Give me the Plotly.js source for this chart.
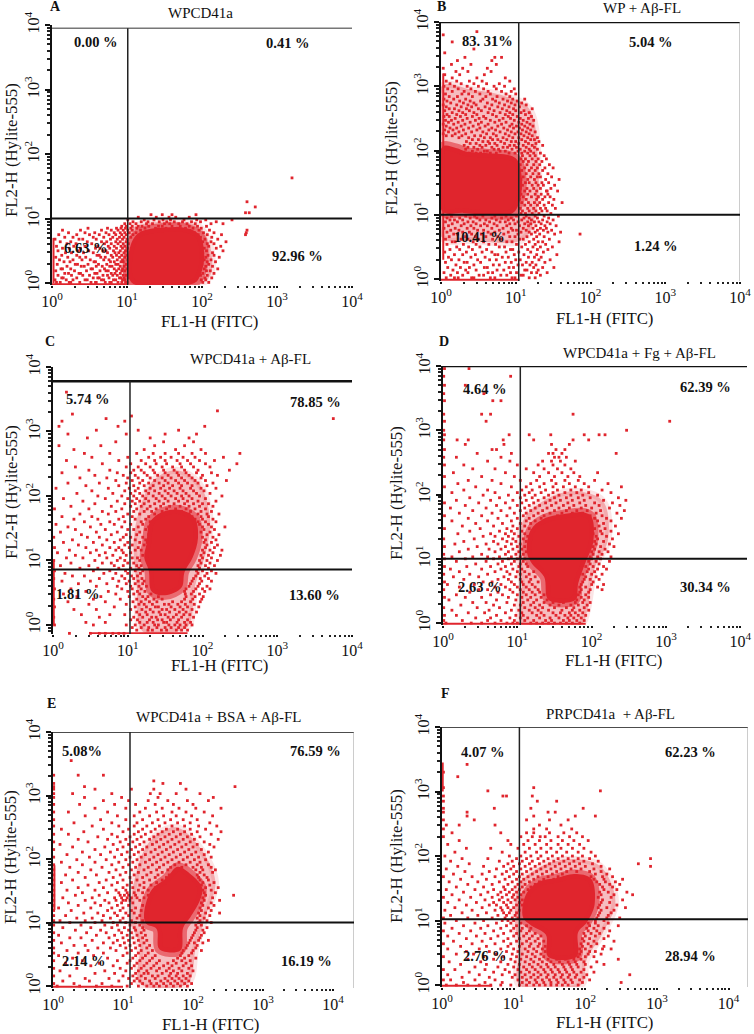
<!DOCTYPE html>
<html><head><meta charset="utf-8">
<script src="https://cdn.plot.ly/plotly-3.0.1.min.js"></script>
<style>html,body{margin:0;padding:0;background:#fff}</style></head>
<body><div id="chart" style="width:754px;height:1034px"></div>
<script>
// All event values are in hundredths of a decade (value 125 = 10^1.25).
// rows: [FL2 value, FL1 value, FL1 value, ...]
const rowsA=[[1,6,11,23,25,37,52,58,59,71,77,79,88,93,98,100,201,209],[5,4,19,28,44,47,66,69,82,85,94,97,199,205],[8,13,15,33,55,61,63,76,90,92,96,103,204,213],[12,8,26,41,50,68,74,81,87,95,99,198,207],[15,17,22,36,38,57,60,79,84,91,102,201,216],[19,5,30,46,64,72,75,86,93,97,106,206,211],[22,12,14,25,52,54,70,83,89,94,100,198,203,221],[26,20,39,43,59,67,77,80,91,96,205,214],[29,7,31,34,48,62,73,85,88,99,103,200,209],[33,16,24,56,58,78,83,92,95,198,207,218],[36,10,28,40,51,69,76,87,94,101,203,212],[40,5,21,37,45,65,71,81,90,97,199,205,223],[43,13,33,60,63,79,86,93,100,208,216],[47,18,26,42,55,74,84,89,96,104,201,214],[50,8,35,49,68,72,82,91,98,197,206,228],[54,14,23,38,58,64,77,86,94,101,203,219],[57,6,29,44,61,75,83,92,97,199,209,225],[61,20,32,53,70,79,88,95,102,195,207,216],[64,11,25,47,66,73,85,91,99,201,212,232],[68,4,36,41,59,78,87,94,100,192,204,221],[71,17,28,55,69,81,90,96,105,189,198,213],[75,9,33,50,63,76,85,93,99,108,185,195,207,226,258],[78,22,44,57,72,83,91,97,103,112,180,190,202,216,259],[82,14,38,66,79,88,95,101,107,118,175,184,196,210,260],[85,48,74,86,92,98,105,113,124,138,152,167,178,188,199],[88,93,99,107,115,120,129,142,147,160,171,183,194,206],[92,97,104,112,126,134,150,157,169,180,191,212,228],[95,108,119,128,143,153,163,174,186,198,219],[98,101,123,136,148,158,176,193,205,240],[102,115,139,156,165,183],[106,132,147,160,192],[109,258,263],[118,271],[126,260],[163,320]];
const rowsB=[[2,7,18,23,41,44,66,72,95,99,118,126],[6,13,29,51,57,80,88,107,110,133],[10,4,22,36,63,69,93,101,121,128,142],[14,16,33,47,75,84,112,115,130],[18,9,26,38,58,62,91,97,124,136,151],[22,20,44,70,78,103,109,119,127],[26,6,31,35,53,86,94,114,122,139],[30,14,24,49,65,74,100,106,131,146],[34,10,40,59,82,90,117,125,134],[38,18,29,46,72,76,98,111,128,155],[42,5,34,55,68,87,104,120,137],[46,12,25,42,61,93,96,116,129,143],[50,21,37,52,78,85,108,123,133,149],[54,8,30,47,64,73,101,113,126,140],[58,15,19,43,57,88,95,118,130,136,158],[62,6,27,36,50,69,81,105,110,124,145],[66,11,33,46,60,76,92,99,115,128,138],[70,17,22,41,54,67,84,103,121,132,186,152],[73,8,29,38,63,72,90,107,118,126,143,160],[76,13,24,49,57,78,96,101,114,129,137,148],[79,4,19,35,44,68,83,94,110,123,133,141],[83,10,27,40,53,62,75,88,105,117,127,139,154],[86,15,31,47,58,71,92,99,112,120,134,146],[89,6,22,36,43,65,79,86,103,116,125,131,142],[92,12,18,29,52,60,74,90,97,108,121,136,150],[95,8,25,39,48,68,81,94,111,118,129,144],[98,14,33,45,56,72,87,101,114,126,138,157],[102,107,113,122,131,147],[106,109,118,127,135,142],[110,106,116,124,133,140,153],[115,112,120,129,138,149],[119,108,117,125,132,144,162],[124,105,114,128,136,151],[128,110,121,130,139,146,130],[132,107,116,126,134,143],[137,112,119,128,141,156,142],[141,106,115,124,133,147],[146,109,122,130,137,152],[150,113,118,127,135,144],[155,107,116,125,140,158],[159,110,120,129,133,148],[164,105,114,123,131,143],[169,108,118,126,136],[173,112,121,129,139,150],[178,106,115,124,132,145],[183,110,117,127,135],[187,107,113,122,130,141],[192,109,119,126,138],[196,38,47,53,66,74,91,99,108,116,124,133],[199,42,58,62,79,86,103,112,120],[202,33,49,71,77,95,106,118,129],[205,36,44,55,68,83,89,101,114,125],[208,31,52,60,75,92,98,110,122,136],[211,39,47,65,72,85,104,117,127],[214,34,56,63,80,94,100,113,131],[217,42,50,69,76,88,108,120,125],[220,24,37,58,66,83,96,104,116,129],[223,7,15,28,45,53,74,91,111,122],[226,3,19,33,61,70,86,99,107,118],[229,10,24,41,56,79,94,103,114,126],[232,5,16,30,48,64,73,89,109,120],[235,12,21,37,52,68,84,97,105,116],[238,7,27,43,59,76,92,101,112,123],[241,3,17,32,50,63,81,95,108,119],[244,10,23,39,54,72,87,104,115],[247,6,14,29,46,66,78,98,110,124],[250,19,35,51,60,83,93,106,117],[253,4,11,26,42,57,74,90,102,121],[256,8,21,33,48,69,86,96,113],[259,15,29,44,63,79,92,107,118],[262,5,24,38,54,71,88,100,111],[265,11,18,34,50,65,82,97,122],[268,7,27,41,59,76,91,105],[271,3,21,36,47,68,85,99,114],[274,13,30,44,62,78,94,108],[277,8,25,39,53,73,89,102],[280,4,17,33,56,69,83,96,112],[284,11,22,42,60,75,92],[288,6,28,37,52,66,87,100],[292,15,31,46,63,81,94],[296,9,23,40,57,74,98],[300,4,18,35,50,71,85],[304,12,27,44,61,78],[308,7,21,38,55,92],[313,15,48,86],[318,5,25,58],[323,20,36,67],[328,3,29,62],[334,14,40,74],[340,22,68],[345,32,72,81],[352,5],[358,44],[369,15],[380,3],[385,48]];
const rowsC=[[-13,22,50,62,70,80,88,95],[-8,112,127,133,145,152,165,172,180],[-4,106,118,128,139,150,158,168,176],[0,2,54,98,110,122,136,141,155,163,170,178,186],[4,44,70,116,126,134,148,152,166,176,184],[8,104,113,129,140,146,157,168,180],[12,1,62,108,120,132,138,154,161,172,188],[16,38,76,96,116,126,144,150,165,175,183],[20,112,124,134,142,156,169,178,192],[24,28,58,104,119,130,146,152,163,174,186],[28,2,82,110,125,137,141,158,170,180,195],[32,48,98,115,122,133,149,155,167,177,189],[36,20,70,107,118,129,139,160,172,184,197],[40,1,54,90,112,124,135,146,176,187,199],[44,32,64,102,120,127,141,178,190,201],[48,14,84,108,116,131,177,185,196],[52,44,74,100,113,123,176,188,203],[56,2,24,92,106,118,178,191,200,210],[60,58,86,104,115,125,182,194,206],[64,34,72,98,110,120,184,196],[68,12,50,88,102,114,122,186,199,212],[72,1,62,80,96,108,119,188,197,208],[76,26,42,92,105,113,191,203],[80,16,68,84,100,117,194,206,218],[84,2,54,76,97,110,120,192,200,212],[88,36,60,88,104,115,196,208],[92,10,48,82,94,112,118,194,204,216],[96,24,66,78,100,108,198,210],[100,1,56,86,96,116,196,206,220],[104,18,40,72,90,106,113,200,212],[108,30,62,80,98,120,198,208,224],[112,6,50,70,94,104,202,214],[116,22,58,84,92,110,118,200,210,226],[120,2,44,76,88,102,114,204,216],[124,34,66,96,106,122,206,220],[128,14,54,82,100,116,126,202,212],[132,26,72,90,110,124,204,218],[136,1,46,62,94,104,120,130,200,214],[140,38,78,98,112,128,206,222],[144,10,58,86,116,132,198,210],[148,30,70,100,108,124,136,202,216],[152,20,50,92,114,128,140,200,212,230],[156,4,64,82,104,120,134,146,196,208],[160,42,76,96,118,130,150,194,204,218],[164,28,60,88,110,124,140,156,190,200,214],[168,12,52,94,106,128,144,160,186,198,208],[172,36,74,100,116,136,150,166,182,194,206,222],[176,66,84,108,122,132,146,158,172,184,198,212],[180,2,48,92,112,126,138,152,164,178,190,204],[184,24,78,104,118,130,144,156,170,182,196,214],[188,56,96,110,122,136,148,162,176,188,200,208],[192,40,86,106,116,128,142,154,168,180,194,218],[196,14,70,100,112,124,138,150,164,174,186,204],[200,60,92,108,120,134,146,158,172,182,196,226],[204,32,80,104,116,128,142,154,166,178,192,210],[208,52,96,110,124,136,150,162,174,188,202],[212,4,74,102,114,130,144,156,170,184,198,218],[216,44,88,108,122,134,148,160,172,186,206],[220,20,62,98,116,128,142,154,168,180,194,214],[224,84,106,120,136,150,164,176,190,204,232],[228,36,72,100,114,130,146,158,172,186,198],[232,56,94,110,126,140,154,168,182,200,220],[236,12,86,104,122,136,150,166,178,192,212],[240,48,76,108,118,134,148,162,176,194,236],[245,30,98,114,130,146,160,172,188,210],[250,66,104,124,138,152,170,184,204,246],[255,18,88,118,136,150,166,180,196,216],[260,52,100,128,144,158,174,190,228],[266,42,76,112,134,150,168,186,204,250],[272,28,122,164,198],[278,8,64,136,176],[284,84,148,188],[290,46,130,182],[296,20,98,150,192],[302,58,114,168],[308,8,87,203],[316,96,12],[320,71,375],[324,105],[327,26],[332,220],[361,18]];
const rowsD=[[0,4,38,52,70,86,94,100,118,126,134,142,150,158,166,174,184],[4,1,26,60,78,96,110,122,138,146,162,170,180,190],[8,44,64,90,104,114,130,144,156,168,176,186],[12,2,18,72,98,108,126,136,152,164,172,182,192],[16,34,56,84,106,120,132,148,158,170,178,188],[20,12,62,92,102,116,128,142,160,174,184,196],[24,1,46,76,110,124,134,150,166,176,190],[28,24,68,96,104,118,130,144,156,172,182,194],[32,40,58,86,108,122,136,148,162,178,188,198],[36,8,72,98,114,126,140,180,190],[40,2,30,52,88,106,118,132,144,178,186,196],[44,18,64,80,100,112,124,136,182,192],[48,36,74,94,108,120,130,184,196],[52,1,48,60,90,104,116,128,186,198,214],[56,22,70,84,100,112,124,184,192,208],[60,6,42,78,96,108,120,186,200,216],[64,2,54,66,92,106,116,128,188,202],[68,28,74,88,104,118,190,198,210],[72,14,48,82,98,112,124,192,206],[76,1,36,60,90,104,116,188,200,214],[80,22,70,86,100,110,122,194,204],[84,10,52,78,94,106,196,208,220],[88,2,32,64,84,102,114,192,202,216],[92,44,74,92,104,112,198,210],[96,18,58,80,96,108,196,206,224],[100,2,30,68,88,100,110,200,212],[103,12,40,60,76,92,104,198,208,226],[107,1,52,84,98,108,202,214],[111,22,70,88,102,112,200,210,222],[115,34,62,78,94,106,204,218],[119,2,46,84,100,110,202,212,230],[123,16,58,74,92,104,206,224],[127,28,68,86,98,112,204,216],[131,1,42,80,94,108,208,228],[135,54,70,88,102,114,206,220],[139,20,64,84,96,110,202,214,236],[143,36,76,92,106,120,200,212,226],[147,2,50,86,100,116,204,218],[151,26,68,94,110,126,198,210,232],[155,44,80,104,118,130,200,216],[159,12,60,92,112,124,138,196,208,226],[163,34,74,100,116,132,148,192,204,220,240],[167,2,52,86,108,122,136,154,168,182,198,214],[171,22,66,96,112,128,144,160,174,188,206,234],[175,40,78,104,118,134,150,166,180,194,212,244],[179,10,58,90,110,124,140,156,170,186,200,224],[183,30,72,100,116,130,146,162,176,192,210,238],[187,2,48,84,106,122,138,152,168,184,204,228],[191,18,64,94,112,128,144,158,174,190,216,246],[195,36,76,104,120,136,150,166,182,198,236],[199,54,88,110,124,142,156,172,188,208],[203,12,70,100,116,132,148,164,180,196,226],[207,28,60,106,120,138,154,172,186,214],[212,2,44,92,112,130,148,162,178,196,240],[217,20,78,118,136,152,170,190,222],[222,34,66,104,126,146,164,182,204],[228,2,52,96,130,150,168,184],[234,14,84,122,142,160,176,208],[240,40,70,112,136,154,172],[246,2,28,100,128,148,164],[252,60,90,134,146,158,178],[258,1,18,78,150,156,166],[264,46,92,142,148,160,233],[270,2,66,72,152,164],[278,30,82,146,170],[285,1,19,34,122,81,175,196],[293,2,89,116,145,218,190,210],[300,1,247],[314,2,305,58],[325,1,175,52,64],[346,2,67,78],[357,1,55],[370,2,30],[384,1,91],[396,2,35]];
const rowsE=[[0,6,38,62,84,106,122,134,144,152,162,172,182,192],[4,1,30,70,112,128,140,148,158,168,178,188,198],[8,14,52,94,116,124,138,154,164,174,184,194],[12,46,80,108,120,132,146,160,170,180,190],[16,1,24,100,114,126,142,150,166,176,186,196],[20,60,88,118,130,136,156,168,178,192],[24,10,74,104,122,134,148,162,172,184,200],[28,1,34,96,112,126,140,152,166,180,194],[32,54,86,116,130,144,158,170,186,198],[36,18,66,106,120,134,148,164,176,190],[40,1,42,92,110,124,138,152,172,184,196],[44,28,78,114,128,142,178,188,204],[48,8,58,100,118,132,146,182,194],[52,1,36,72,106,122,136,184,198],[56,20,50,90,112,126,142,186,200,212],[60,1,64,82,104,118,134,190,204],[64,30,46,96,110,124,138,192,206],[68,12,72,86,102,116,130,194,202,214],[72,1,56,92,108,122,134,196,208,222],[76,24,40,80,100,114,128,198,210],[80,8,62,88,106,120,132,200,212],[84,1,48,76,98,112,126,202,216],[88,32,68,94,108,118,130,204,214],[92,14,54,84,102,116,128,206,220],[96,1,40,74,92,110,124,204,212],[100,24,60,86,104,118,208,226],[103,1,10,46,70,96,112,128,210,220],[107,34,56,82,100,120,206,216],[111,1,18,72,92,108,124,210,224],[115,44,64,88,104,116,208,218,238],[119,1,26,78,96,112,126,212,226],[123,8,54,84,100,118,210,222],[127,1,36,68,92,108,128,214,230],[131,22,60,80,98,114,212,226],[135,1,46,74,90,100,104,110,124,216,238],[139,14,56,88,98,106,112,120,130,214,228],[143,1,32,66,96,102,108,118,136,218,258],[147,42,78,94,106,116,128,142,216,232],[151,1,20,60,90,104,122,136,150,214,226],[155,36,72,100,114,130,146,158,218,236],[159,1,50,84,106,124,140,154,212,224],[163,12,66,92,112,130,148,164,214,230],[167,1,28,76,100,120,138,156,170,210,222],[171,46,86,110,128,146,162,208,220],[175,1,18,62,96,116,134,150,166,206,216],[179,36,80,104,122,140,156,172,210,228],[183,1,54,90,112,130,148,164,204,214,232],[187,24,70,100,118,136,152,168,184,200,212,226],[191,1,42,84,108,124,142,158,174,190,206,222],[195,12,60,94,114,132,148,164,180,196,210],[199,34,76,104,120,138,154,170,186,202,218],[203,1,52,88,110,126,144,160,176,192,208,226],[207,20,68,98,116,132,150,166,182,198,216],[211,42,82,106,122,140,156,172,188,204,222],[215,1,60,92,112,128,146,162,178,194,212],[219,28,74,100,118,134,152,168,184,200,230],[223,10,86,108,124,142,158,174,190,206,224],[227,1,50,96,114,130,148,164,180,196,216],[231,36,78,104,120,138,154,170,186,202,236],[235,64,92,110,126,144,160,176,192,210],[239,1,22,84,116,132,150,166,182,198,226],[243,44,100,122,140,156,172,188,206,240],[247,12,72,108,128,146,162,178,196,218],[252,1,56,94,116,134,152,170,188,208,234],[257,30,84,120,142,160,178,196,224],[262,1,68,104,128,150,168,186,206],[268,46,92,116,138,158,176,198,228],[274,1,22,78,124,148,170,190,216],[280,60,104,132,156,180,204,240],[286,1,38,88,118,146,172,200],[292,72,108,136,164,192,222],[297,1,45,229,98,150],[303,1,28,84,139,153,176,210],[310,1,60,112,144,190],[314,1,45,260],[319,1,157,182],[323,144],[332,1,36,72],[355,26]];
const rowsF=[[0,6,20,36,52,68,82,96,108,118,128,136,144,152,160,168,176,190],[4,30,60,84,112,122,132,142,152,162,172,182,196,250],[8,2,12,46,74,106,118,130,140,150,160,170,180,192,206],[12,28,66,98,112,124,134,146,156,166,176,186,198],[16,8,52,84,102,116,128,138,148,158,168,178,188,202,262],[20,38,72,94,110,122,134,144,154,164,174,184,194,212],[24,2,18,60,88,106,118,130,142,152,162,172,182,198],[28,46,78,100,114,126,138,148,158,170,180,190,208],[32,26,62,92,108,122,134,146,156,168,178,188,200,226],[36,10,54,82,102,116,128,140,152,164,176,186,198,216],[40,36,72,96,110,124,136,148,160,172,184,194,246],[44,2,58,86,104,118,130,142,190,200,212],[48,20,44,76,98,112,126,138,192,204,222],[52,34,66,90,106,120,132,144,194,206,214],[56,8,52,82,100,116,128,140,192,200,224,236],[60,26,62,92,108,122,134,144,196,208,226],[64,2,42,74,96,112,124,136,194,204,216],[68,16,56,86,104,118,130,142,198,212,240],[72,34,68,92,108,122,134,196,206,226],[76,8,48,78,100,114,126,138,200,214,232],[80,24,60,86,104,118,130,198,208,220],[84,2,40,72,96,110,122,204,216,234],[88,14,54,82,100,112,124,202,212,226],[92,30,64,90,104,118,206,218,246],[96,4,46,76,96,110,204,214,232],[100,20,58,84,92,100,214,226],[104,2,36,70,88,98,106,216,230,248],[108,12,50,78,90,102,218,232],[112,28,62,86,94,104,220,236],[116,4,42,74,84,96,108,222,240],[120,18,56,82,92,100,218,230,256],[124,34,66,76,90,104,112,220,244],[128,8,48,72,86,96,108,222,234],[132,24,60,80,92,102,112,224,252],[136,2,40,70,84,98,106,218,236],[140,14,54,78,90,100,110,222,240,266],[144,30,64,82,94,104,114,220,232,258],[148,6,46,72,88,98,108,120,226,244],[152,20,58,86,102,112,124,140,224,238],[156,36,70,92,106,116,130,146,158,220,234,248],[160,10,50,80,98,110,122,136,150,216,228,242],[164,26,62,88,104,114,128,142,156,172,212,226,252],[168,2,42,74,94,108,120,134,148,162,176,208,224,238],[172,16,56,84,100,112,126,140,154,168,214,230],[176,32,66,90,104,118,132,146,160,174,188,206,222],[180,6,76,96,110,124,138,152,166,180,194,212,234],[184,22,58,86,100,116,130,144,158,172,186,200,222,291],[188,38,92,108,122,136,150,164,178,192,210,274],[192,12,80,98,112,126,142,156,170,184,198,218],[196,28,64,104,118,134,148,162,176,190,206,291],[200,4,94,110,124,138,154,168,182,196,214],[206,18,84,116,132,146,160,174,190,208],[212,34,68,106,122,138,152,166,182,198],[218,8,96,114,130,146,162,176,192],[224,24,92,120,136,152,168,184,204],[230,2,110,126,137,144,162,178,196],[236,14,82,118,128,150,170,188],[242,2,128,146,181],[248,6,24,74,136,166],[256,2,45,118,176,150],[262,35,128,214,186],[268,2,35,158,148],[274,2,73,197,124],[285,2,133,160],[293,2,90,126,85],[301,64,221],[306,2,128],[323,22],[330,2],[342,35]];

// Dense central region of each cloud, and the stippled zone round it: [FL1, FL2, FL1, FL2, ...]
const coreA=[106,1,104,55,116,78,150,86,180,85,197,74,203,40,197,10,190,0];
const haloA=[100,0,100,70,108,86,150,95,195,88,210,60,212,15,200,0];
const coreB=[2,105,30,103,60,100,95,102,105,120,108,160,100,188,60,196,35,198,20,204,2,206];
const haloB=[1,65,40,60,110,62,128,110,130,180,118,265,85,285,40,295,1,300];
const coreC=[125,125,130,160,148,176,172,178,190,165,194,135,187,105,176,82,172,58,150,46,132,52,128,85,122,105];
const haloC=[108,130,116,180,135,225,165,240,195,220,210,165,205,115,190,60,182,0,165,-10,120,-10,112,60];
const coreD=[113,110,118,145,135,162,165,170,190,172,200,165,202,125,192,95,182,62,178,36,142,36,136,72,120,92];
const haloD=[102,95,108,160,135,190,175,205,215,190,222,130,204,85,194,20,186,-2,106,-2,106,60];
const coreE=[130,112,140,150,162,170,178,188,198,175,213,155,210,135,196,108,186,92,182,56,152,58,148,90,133,98];
const haloE=[112,100,118,175,140,230,175,250,205,225,232,165,218,110,204,60,192,4,124,4,124,65];
const coreF=[113,105,117,140,135,160,160,166,185,172,208,165,213,125,202,97,190,82,188,44,148,44,145,78,125,92];
const haloF=[102,95,108,155,135,182,175,195,220,185,242,130,224,80,202,40,194,0,108,0,108,60];

// Saturated events on the axes: [FL1 from, FL1 to, FL2 from, FL2 to]
const edgeA=[[2,2,0,70],[0,100,-2,-2]];
const edgeB=[[3,3,30,320],[0,105,-1,-1]];
const edgeC=[[1,1,0,100],[50,180,-13,-13]];
const edgeD=[[0,192,-1,-1]];
const edgeE=[[2,2,120,190],[0,100,-1,-1]];
const edgeF=[[1,1,300,345],[0,70,-1,-1]];

// Gates and frame lines, same units
const gateX=[101,104,103,104,110,108];
const gateY=[100,100,86,100,100,102];
const topLine=[395,400,378,400,400,400];
const frameRight=[null,400,null,null,430,427];

const panelNames=["A","B","C","D","E","F"];
const panelTitles=["WPCD41a","WP + Aβ-FL","WPCD41a + Aβ-FL","WPCD41a + Fg + Aβ-FL","WPCD41a + BSA + Aβ-FL","PRPCD41a  + Aβ-FL"];
const quadrantLabels=[["0.00 %","0.41 %","6.63 %","92.96 %"],["83. 31%","5.04 %","10.41 %","1.24 %"],["5.74 %","78.85 %","1.81 %","13.60 %"],["4.64 %","62.39 %","2.63 %","30.34 %"],["5.08%","76.59 %","2.14 %","16.19 %"],["4.07 %","62.23 %","2.76 %","28.94 %"]];
const tickPowers=[0,1,2,3,4];
const tickLabels=tickPowers.map(p=>"10<sup>"+p+"</sup>");
const xName="FL1-H (FITC)", yName="FL2-H (Hylite-555)";

// Page geometry: plot rectangles [left,right,top,bottom] and ranges
const rects=[[52,352,25,285],[441,740,22,281],[53,352,367,634],[443,747,366,625],[53,354,732,988],[442,748,727,987]];
const xMax=[4,4,4,4.09,4.3,4.27];
const yMin=[-0.03,-0.03,-0.14,-0.03,-0.03,-0.03];
const letterPos=[[55,7],[441,6],[50,341],[444,342],[51,703],[445,693]];
const titlePos=[[200,13],[642,8],[251,359],[639,353],[218,717],[610,714]];
const xTitlePos=[[209,322],[604,318],[219,665],[613,660],[210,1024],[604,1022]];
const yTitlePos=[[11,150],[392,148],[12,492],[397,493],[10,857],[396,856]];
const labelPos=[[[96,42],[288,43],[86,248],[297,256]],[[487,41],[651,42],[479,237],[656,246]],[[88,399],[315,402],[78,594],[314,595]],[[485,389],[705,387],[480,587],[705,587]],[[82,751],[315,751],[84,961],[306,961]],[[483,752],[690,752],[485,956],[690,956]]];

const RED="#E0252D", SERIF="'Liberation Serif','Times New Roman',serif";
const allRows=[rowsA,rowsB,rowsC,rowsD,rowsE,rowsF];
const allCore=[coreA,coreB,coreC,coreD,coreE,coreF];
const allHalo=[haloA,haloB,haloC,haloD,haloE,haloF];
const allEdge=[edgeA,edgeB,edgeC,edgeD,edgeE,edgeF];
const dec=v=>Math.pow(10,v/100);
const W=754,H=1034;
const traces=[];
const layout={width:W,height:H,margin:{l:0,r:0,t:0,b:0},paper_bgcolor:"#fff",plot_bgcolor:"#fff",showlegend:false,annotations:[]};
function polyXY(a){const x=[],y=[];for(let i=0;i<a.length;i+=2){x.push(dec(a[i]));y.push(dec(a[i+1]));}x.push(x[0]);y.push(y[0]);return{x,y};}
function note(text,pos,size,bold,rot){layout.annotations.push({text:bold?"<b>"+text+"</b>":text,xref:"paper",yref:"paper",x:pos[0]/W,y:1-pos[1]/H,xanchor:"center",yanchor:"middle",showarrow:false,textangle:rot||0,font:{family:SERIF,size:size,color:"#111"}});}
rects.forEach((r,i)=>{
  const n=i===0?"":String(i+1), xa="x"+n, ya="y"+n;
  const lx=xMax[i], ymin=yMin[i];
  const tick={tickmode:"array",tickvals:tickPowers.map(p=>Math.pow(10,p)),ticktext:tickLabels,tickfont:{family:SERIF,size:16,color:"#111"},showgrid:false,zeroline:false};
  layout["xaxis"+n]=Object.assign({},tick,{type:"log",domain:[r[0]/W,r[1]/W],range:[0,lx],anchor:ya,showline:false,ticks:"outside",ticklen:2,tickwidth:2,tickcolor:"#111",minor:{ticks:"outside",ticklen:2,tickwidth:2,tickcolor:"#222",dtick:"D1"}});
  layout["yaxis"+n]=Object.assign({},tick,{type:"log",domain:[1-r[3]/H,1-r[2]/H],range:[ymin,4],anchor:xa,showline:true,linecolor:"#111",linewidth:2,ticks:"outside",ticklen:5,tickwidth:2,tickcolor:"#111",tickangle:-90,minor:{ticks:"outside",ticklen:3,tickwidth:2,tickcolor:"#222",dtick:"D1"}});
  const h=polyXY(allHalo[i]), c=polyXY(allCore[i]);
  traces.push({x:h.x,y:h.y,xaxis:xa,yaxis:ya,mode:"lines",fill:"toself",fillcolor:"rgba(224,37,45,0.30)",line:{width:7,color:"rgba(224,37,45,0.12)",shape:"spline"},hoverinfo:"skip"});
  const dx=[],dy=[];
  allRows[i].forEach(row=>{for(let k=1;k<row.length;k++){dx.push(dec(row[k]));dy.push(dec(row[0]));}});
  traces.push({x:dx,y:dy,xaxis:xa,yaxis:ya,mode:"markers",marker:{symbol:"square",size:2.8,color:RED},cliponaxis:false});
  traces.push({x:c.x,y:c.y,xaxis:xa,yaxis:ya,mode:"lines",fill:"toself",fillcolor:RED,line:{width:9,color:"rgba(224,37,45,0.55)",shape:"spline"},hoverinfo:"skip"});
  allEdge[i].forEach(e=>traces.push({x:[dec(e[0]),dec(e[1])],y:[dec(e[2]),dec(e[3])],xaxis:xa,yaxis:ya,mode:"lines",line:{width:2,color:RED},hoverinfo:"skip",cliponaxis:false}));
  const line=(x,y,w,col)=>traces.push({x,y,xaxis:xa,yaxis:ya,mode:"lines",line:{width:w,color:col},hoverinfo:"skip",cliponaxis:false});
  const y0=Math.pow(10,ymin), xEnd=Math.pow(10,lx), gx=dec(gateX[i]), gy=dec(gateY[i]), ty=dec(topLine[i]);
  line([1,xEnd],[ty,ty],i===0?1.5:(i===4||i===5?1.5:2.5),i===0?"#777":"#111");
  if(frameRight[i]!==null) line([dec(frameRight[i]),dec(frameRight[i])],[y0,ty],1,"#999");
  line([gx,gx],[y0,ty],1.5,"#222");
  line([1,xEnd],[gy,gy],2,"#111");
  note(panelNames[i],letterPos[i],14,true);
  note(panelTitles[i],titlePos[i],15,false);
  note(xName,xTitlePos[i],16.8,false);
  note(yName,yTitlePos[i],16.8,false,-90);
  quadrantLabels[i].forEach((t,k)=>note(t,labelPos[i][k],14.5,true));
});
Plotly.newPlot("chart",traces,layout,{staticPlot:true,displayModeBar:false});
</script></body></html>
